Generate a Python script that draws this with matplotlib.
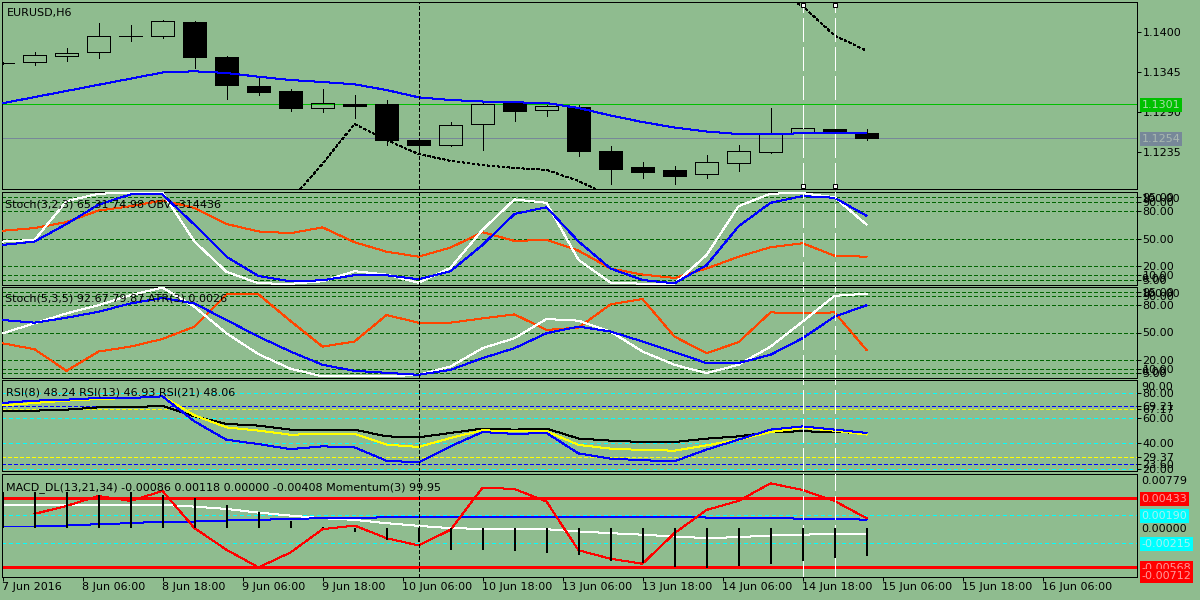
import numpy as np
import matplotlib
matplotlib.use("Agg")
import matplotlib.pyplot as plt
from matplotlib.transforms import blended_transform_factory

plt.rcParams["font.family"] = ["DejaVu Sans"]
plt.rcParams["font.size"] = 8
plt.rcParams["lines.scale_dashes"] = False
plt.rcParams["lines.antialiased"] = False
plt.rcParams["patch.antialiased"] = False

BG = "#8fbc8f"
LW = 0.72

# EURUSD H6 candles, bar 0..27
opens = [1.13575, 1.13588, 1.13670, 1.13717, 1.13940, 1.13937, 1.14133, 1.13652,
         1.13253, 1.13185, 1.12955, 1.13002, 1.13006, 1.12511, 1.12446, 1.12727,
         1.13024, 1.12919, 1.12961, 1.12360, 1.12140, 1.12098, 1.12039, 1.12199,
         1.12350, 1.12603, 1.12662, 1.12607]
highs = [1.13578, 1.13725, 1.13772, 1.14116, 1.14092, 1.14161, 1.14147, 1.13666,
         1.13373, 1.13212, 1.13212, 1.13130, 1.13061, 1.12511, 1.12754, 1.13047,
         1.13047, 1.12992, 1.12992, 1.12432, 1.12208, 1.12153, 1.12305, 1.12442,
         1.12947, 1.12855, 1.12969, 1.12662]
lows = [1.13562, 1.13542, 1.13601, 1.13643, 1.13876, 1.13918, 1.13505, 1.13070,
        1.13130, 1.12910, 1.12900, 1.12818, 1.12442, 1.12314, 1.12432, 1.12373,
        1.12776, 1.12845, 1.12295, 1.11902, 1.11993, 1.11910, 1.11993, 1.12085,
        1.12336, 1.12556, 1.12593, 1.12511]
closes = [1.13565, 1.13680, 1.13707, 1.13941, 1.13945, 1.14147, 1.13648, 1.13263,
          1.13175, 1.12955, 1.13016, 1.12978, 1.12515, 1.12446, 1.12713, 1.13002,
          1.12914, 1.12978, 1.12364, 1.12116, 1.12075, 1.12020, 1.12204, 1.12356,
          1.12603, 1.12676, 1.12611, 1.12543]

ma_blue = [1.13016, 1.13101, 1.13185, 1.13270, 1.13354, 1.13439, 1.13456, 1.13432,
           1.13381, 1.13336, 1.13308, 1.13277, 1.13198, 1.13098, 1.13061, 1.13040,
           1.13029, 1.13020, 1.12951, 1.12848, 1.12758, 1.12683, 1.12628, 1.12593,
           1.12593, 1.12603, 1.12603, 1.12603]
nan = np.nan
ma_dotted = [nan, nan, nan, nan, nan, nan, nan, nan, nan, 1.11681, 1.12185, 1.12731,
             1.12511, 1.12318, 1.12224, 1.12167, 1.12126, 1.12100, 1.11948, 1.11741,
             nan, nan, nan, nan, 1.14573, 1.14353, 1.13948, 1.13739]

price_ticks = [1.1400, 1.1345, 1.1290, 1.1235]
ask_line = 1.1301
bid_line = 1.1254

# Stoch(3,2,3) + OBV (OBV drawn in the window's 0-100 units)
stoch1_main = [46.9, 48.7, 90.8, 98.9, 100, 100, 46.9, 14.0, 1.5, 1.0, 3.7, 14.7, 11.0, 2.2,
               18.3, 59.7, 92.7, 89.0, 27.0, 2.2, 1.1, 1.1, 32.2, 85.3, 99.0, 99.5, 95.0, 65.31]
stoch1_signal = [43.2, 46.9, 66.0, 87.0, 98.1, 98.1, 65.2, 30.4, 9.5, 3.7, 4.8, 10.3, 10.3, 5.9,
                 14.7, 43.2, 76.9, 84.2, 47.0, 17.6, 5.1, 1.5, 21.2, 63.4, 89.0, 96.3, 94.5, 74.98]
stoch1_obv = [58.6, 61.5, 68.1, 80.6, 85.3, 91.6, 83.5, 66.0, 57.9, 56.0, 62.3, 46.2, 35.9, 30.4,
              40.3, 57.1, 47.6, 48.7, 37.0, 17.6, 11.0, 7.3, 17.6, 30.4, 40.7, 45.1, 31.5, 30.4]

# Stoch(5,3,5) + ATR(3)
stoch2_main = [49.1, 60.1, 71.0, 80.0, 91.0, 99.4, 78.2, 49.1, 26.2, 10.2, 1.8, 1.8, 1.8, 3.5,
               12.6, 32.8, 43.7, 64.8, 63.0, 51.1, 29.1, 14.5, 5.4, 14.5, 34.5, 61.9, 90.3, 92.67]
stoch2_signal = [63.7, 60.8, 66.2, 72.8, 81.9, 88.0, 81.9, 63.7, 45.5, 29.1, 14.5, 7.9, 5.7, 3.5,
                 9.0, 21.8, 32.8, 49.2, 56.5, 51.1, 40.1, 28.4, 16.4, 16.4, 25.5, 43.7, 67.4, 79.87]
stoch2_atr = [38.2, 31.6, 7.9, 29.1, 34.5, 42.9, 56.5, 91.9, 91.9, 62.6, 34.5, 40.1, 69.2, 60.8,
              60.8, 65.5, 69.9, 52.8, 55.4, 80.9, 86.8, 45.5, 27.3, 39.3, 72.1, 71.0, 72.1, 30.9]
stoch_levels = [95, 90, 80, 50, 20, 10, 5]

# RSI(8), RSI(13), RSI(21)
rsi8 = [71.9, 73.7, 74.5, 75.8, 75.8, 77.1, 57.3, 42.8, 39.4, 35.4, 37.6, 36.8, 26.2, 24.9,
        37.6, 48.9, 47.4, 48.2, 32.0, 27.9, 26.6, 25.8, 35.0, 42.9, 50.8, 53.4, 50.8, 48.24]
rsi13 = [70.0, 71.9, 73.7, 75.0, 75.8, 77.1, 62.1, 52.6, 50.0, 46.8, 47.4, 47.4, 39.0, 37.1,
         44.2, 50.3, 49.5, 49.5, 38.7, 35.8, 34.7, 34.2, 38.4, 42.9, 48.9, 52.1, 50.0, 46.93]
rsi21 = [65.3, 65.8, 66.6, 68.4, 68.4, 69.7, 61.3, 55.3, 54.0, 50.8, 50.8, 50.8, 45.5, 44.7,
         48.2, 51.6, 50.8, 51.6, 43.8, 42.1, 41.0, 41.0, 43.7, 45.5, 48.9, 49.5, 48.9, 48.06]
rsi_cyan_levels = [80, 60, 40, 20]
rsi_blue_levels = [69.21, 23.60]
rsi_yellow_levels = [67.17, 29.37]

# MACD_DL(13,21,34) + Momentum(3) (momentum drawn in the window's units)
macd_main = [0.00331, 0.00331, 0.00331, 0.00331, 0.00331, 0.00331, 0.00307, 0.00273, 0.00220,
             0.00177, 0.00139, 0.00115, 0.00067, 0.00029, -0.00005, -0.00015, -0.00015, -0.00020,
             -0.00053, -0.00077, -0.00100, -0.00125, -0.00149, -0.00135, -0.00111, -0.00100,
             -0.00086, -0.00086]
macd_signal = [0.00019, 0.00019, 0.00033, 0.00053, 0.00067, 0.00091, 0.00091, 0.00106, 0.00115,
               0.00129, 0.00139, 0.00139, 0.00154, 0.00163, 0.00163, 0.00163, 0.00163, 0.00163,
               0.00163, 0.00163, 0.00163, 0.00163, 0.00149, 0.00149, 0.00149, 0.00129, 0.00129,
               0.00118]
macd_hist = [0.00520, 0.00524, 0.00524, 0.00476, 0.00514, 0.00476, 0.00428, 0.00332, 0.00225,
             0.00101, 0.00005, -0.00063, -0.00173, -0.00210, -0.00318, -0.00318, -0.00342,
             -0.00366, -0.00400, -0.00486, -0.00511, -0.00568, -0.00583, -0.00559, -0.00525,
             -0.00486, -0.00438, -0.00408]
momentum = [nan, 0.00202, 0.00317, 0.00461, 0.00389, 0.00534, -0.00005, -0.00318, -0.00573,
            -0.00357, -0.00020, 0.00033, -0.00150, -0.00255, -0.00029, 0.00582, 0.00562, 0.00380,
            -0.00325, -0.00448, -0.00520, -0.00078, 0.00259, 0.00389, 0.00644, 0.00548, 0.00389,
            0.00139]
macd_red_levels = [0.00433, -0.00568]
macd_cyan_levels = [0.00190, -0.00215]
macd_max, macd_min = 0.00779, -0.00712

time_labels = ["7 Jun 2016", "8 Jun 06:00", "8 Jun 18:00", "9 Jun 06:00", "9 Jun 18:00",
               "10 Jun 06:00", "10 Jun 18:00", "13 Jun 06:00", "13 Jun 18:00", "14 Jun 06:00",
               "14 Jun 18:00", "15 Jun 06:00", "15 Jun 18:00", "16 Jun 06:00"]
cursor_bar = 13
marked_bars = [25, 26]

bars = np.arange(len(closes))

fig = plt.figure(figsize=(12, 6), dpi=100, facecolor=BG)


def px_axes(top, bottom, left=2, right=1137):
    ax = fig.add_axes([left / 1200, 1 - bottom / 600, (right - left) / 1200, (bottom - top) / 600])
    ax.set_facecolor(BG)
    for s in ax.spines.values():
        s.set_color("black")
        s.set_linewidth(LW)
    # one bar every 32 px, bar 0 centred at x = 2.5 px
    ax.set_xlim((left - 2.5) / 32, (right - 2.5) / 32)
    ax.yaxis.tick_right()
    ax.tick_params(axis="y", direction="out", length=2.9, width=LW, pad=1, labelsize=8, colors="black")
    ax.tick_params(axis="x", bottom=False, labelbottom=False)
    return ax


def side_text(ax, y, text, face=None, color="black", coords=None, va="center_baseline", dy=0):
    bbox = dict(boxstyle="square,pad=0.18", fc=face, ec="none") if face else None
    ax.annotate(text, xy=(1, y), xycoords=coords or ax.get_yaxis_transform(),
                xytext=(3.3, dy), textcoords="offset points", ha="left", va=va,
                color=color, fontsize=8, annotation_clip=False, bbox=bbox, zorder=6)


ax_p = px_axes(2, 189)
ax_s1 = px_axes(192, 285)
ax_s2 = px_axes(287, 378)
ax_r = px_axes(380, 471)
ax_m = px_axes(474, 577)

# ---- price window
ax_p.set_ylim(1.1183713, 1.1440838)
ax_p.axhline(ask_line, color="#00c000", lw=LW, zorder=1)
ax_p.axhline(bid_line, color="#778899", lw=LW, zorder=1)
body_lo = np.minimum(opens, closes)
body_hi = np.maximum(opens, closes)
ax_p.vlines(bars, body_hi, highs, color="black", lw=LW, zorder=3)
ax_p.vlines(bars, lows, body_lo, color="black", lw=LW, zorder=3)
faces = ["none" if c >= o else "black" for o, c in zip(opens, closes)]
ax_p.bar(bars, np.maximum(body_hi - body_lo, 1e-6), bottom=body_lo, width=0.69,
         color=faces, edgecolor="black", linewidth=LW, zorder=3)
ax_p.plot(bars, ma_blue, color="#0000ff", lw=LW, zorder=4)
ax_p.plot(bars, ma_dotted, color="black", lw=LW, dashes=(1.8, 1.8), zorder=4)
ax_p.set_yticks(price_ticks)
ax_p.set_yticklabels([f"{v:.4f}" for v in price_ticks])
side_text(ax_p, ask_line, f"{ask_line:.4f}", face="#00c000", color="#a8dca8")
side_text(ax_p, bid_line, f"{bid_line:.4f}", face="#778899", color="#a9b8b0")
fig.text(7 / 1200, 1 - 16 / 600, "EURUSD,H6", fontsize=8, va="baseline")

tr = blended_transform_factory(ax_p.transData, ax_p.transAxes)
for b in marked_bars:
    ax_p.axvline(b, ymin=0.015, ymax=0.985, color="white", lw=LW * 1.4, dashes=(17, 4), zorder=5)
    ax_p.plot([b, b], [0.985, 0.015], transform=tr, ls="none", marker="s", ms=3,
              mfc="white", mec="black", mew=LW, zorder=6, clip_on=False)

# ---- stochastic windows
for ax, main, sig, extra, title, base, lims in [
        (ax_s1, stoch1_main, stoch1_signal, stoch1_obv, "Stoch(3,2,3) 65.31 74.98 OBV -314436",
         207.7, (-0.33, 100.76)),
        (ax_s2, stoch2_main, stoch2_signal, stoch2_atr, "Stoch(5,3,5) 92.67 79.87 ATR(3) 0.0026",
         301.7, (0.0, 100.0))]:
    ax.set_ylim(*lims)
    for lv in stoch_levels:
        ax.axhline(lv, color="#006400", lw=LW, dashes=(2.2, 1.5), zorder=1)
    ax.plot(bars, extra, color="#ff4500", lw=LW, zorder=3)
    ax.plot(bars, main, color="white", lw=LW, zorder=3)
    ax.plot(bars, sig, color="#0000ff", lw=LW, zorder=4)
    ax.set_yticks(stoch_levels)
    ax.set_yticklabels([f"{v:.2f}" for v in stoch_levels])
    side_text(ax, 1, "100.00", coords=ax.transAxes, va="top", dy=-1.5)
    side_text(ax, 0, "0.00", coords=ax.transAxes, va="bottom", dy=1.0)
    fig.text(5 / 1200, 1 - base / 600, title, fontsize=8, va="baseline")

# ---- RSI window
ax_r.set_ylim(18.1, 90.04)
for lv in rsi_cyan_levels:
    ax_r.axhline(lv, color="#00ffff", lw=LW, dashes=(2.2, 2.2), zorder=1)
for lv in rsi_blue_levels:
    ax_r.axhline(lv, color="#0000ff", lw=LW * 1.4, dashes=(2.2, 1.5), zorder=1)
for lv in rsi_yellow_levels:
    ax_r.axhline(lv, color="#ffff00", lw=LW, dashes=(2.2, 1.5), zorder=1)
ax_r.plot(bars, rsi21, color="black", lw=LW, zorder=3)
ax_r.plot(bars, rsi13, color="#ffff00", lw=LW, zorder=3)
ax_r.plot(bars, rsi8, color="#0000ff", lw=LW, zorder=4)
rsi_ticks = sorted(rsi_cyan_levels + rsi_blue_levels + rsi_yellow_levels, reverse=True)
ax_r.set_yticks(rsi_ticks)
ax_r.set_yticklabels([f"{v:.2f}" for v in rsi_ticks])
side_text(ax_r, 1, "90.00", coords=ax_r.transAxes, va="top", dy=-1.5)
fig.text(5.5 / 1200, 1 - 395.3 / 600, "RSI(8) 48.24 RSI(13) 46.93 RSI(21) 48.06", fontsize=8, va="baseline")

# ---- MACD window
ax_m.set_ylim(macd_min, macd_max)
for lv in macd_red_levels:
    ax_m.axhline(lv, color="#ff0000", lw=LW * 1.4, zorder=1)
for lv in macd_cyan_levels:
    ax_m.axhline(lv, color="#00ffff", lw=LW, dashes=(2.2, 2.2), zorder=1)
ax_m.vlines(bars, 0, macd_hist, color="black", lw=1.1, zorder=5.5)
ax_m.plot(bars, macd_main, color="white", lw=LW, zorder=3)
ax_m.plot(bars, macd_signal, color="#0000ff", lw=LW, zorder=3)
ax_m.plot(bars, momentum, color="#ff0000", lw=LW, zorder=4)
ax_m.tick_params(axis="y", right=False, labelright=False)
side_text(ax_m, 1, f"{macd_max:.5f}", coords=ax_m.transAxes, va="top", dy=-1.5)
side_text(ax_m, 0.0, "0.00000")
for lv in macd_red_levels:
    side_text(ax_m, lv, f"{lv:.5f}", face="#ff0000", color="#ff9a9a")
for lv in macd_cyan_levels:
    side_text(ax_m, lv, f"{lv:.5f}", face="#00ffff", color="#a6f2f2")
side_text(ax_m, macd_min, f"{macd_min:.5f}", face="#ff0000", color="#ff9a9a", dy=1.5)
fig.text(5.5 / 1200, 1 - 490.3 / 600,
         "MACD_DL(13,21,34) -0.00086 0.00118 0.00000 -0.00408 Momentum(3) 99.95",
         fontsize=8, va="baseline")

tick_pos = np.arange(len(time_labels)) * 2.5
ax_m.tick_params(axis="x", bottom=True, labelbottom=True, direction="out", length=2.9,
                 width=LW, pad=1, labelsize=8, colors="black")
ax_m.set_xticks(tick_pos)
ax_m.set_xticklabels(time_labels, ha="left")

# ---- vertical markers through every window
for ax in [ax_p, ax_s1, ax_s2, ax_r, ax_m]:
    ax.axvline(cursor_bar, color="black", lw=LW, dashes=(2.2, 1.5), zorder=5)
    if ax is not ax_p:
        for b in marked_bars:
            ax.axvline(b, color="white", lw=LW * 1.4, dashes=(17, 4), zorder=5)

fig.savefig("out.png", dpi=100, facecolor=BG)
